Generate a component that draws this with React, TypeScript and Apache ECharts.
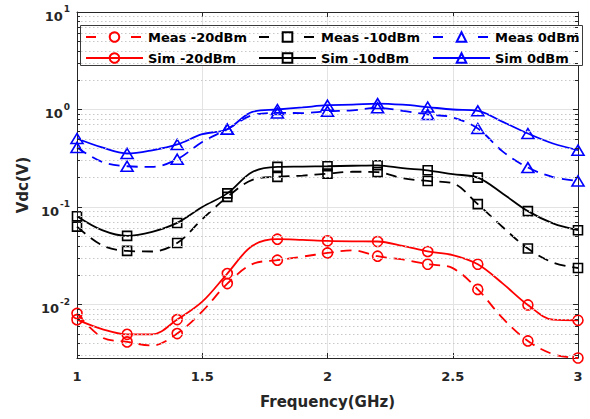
import React, { useEffect, useRef } from 'react';
import * as echarts from 'echarts';

const markerFreq = [1.0, 1.2, 1.4, 1.6, 1.8, 2.0, 2.2, 2.4, 2.6, 2.8, 3.0];
const midFreq = [1.1, 1.3, 1.5, 1.7, 1.9, 2.1, 2.3, 2.5, 2.7, 2.9];

// Vdc (V) values
const measM20 = [0.0081, 0.00414, 0.00504, 0.0164, 0.0285, 0.0338, 0.0313, 0.0259, 0.0143, 0.00423, 0.00283];
const measM20Mid = [0.0046, 0.0038, 0.0085, 0.026, 0.031, 0.036, 0.029, 0.0236, 0.0072, 0.0031];
const simM20 = [0.007, 0.00495, 0.00702, 0.0208, 0.0468, 0.045, 0.0443, 0.035, 0.0259, 0.0099, 0.0069];
const simM20Mid = [0.0056, 0.00495, 0.0107, 0.04, 0.046, 0.0445, 0.04, 0.0322, 0.0164, 0.007];

const measM10 = [0.063, 0.0355, 0.0428, 0.127, 0.204, 0.22, 0.228, 0.185, 0.107, 0.0375, 0.0237];
const measM10Mid = [0.0405, 0.035, 0.075, 0.19, 0.21, 0.23, 0.197, 0.175, 0.062, 0.027];
const simM10 = [0.0805, 0.0506, 0.0687, 0.138, 0.258, 0.262, 0.268, 0.238, 0.2, 0.0908, 0.0578];
const simM10Mid = [0.058, 0.0557, 0.1, 0.229, 0.26, 0.265, 0.25, 0.217, 0.137, 0.068];

const measM0 = [0.408, 0.262, 0.309, 0.628, 0.923, 0.96, 1.04, 0.89, 0.638, 0.254, 0.185];
const measM0Mid = [0.29, 0.258, 0.465, 0.874, 0.92, 0.98, 0.97, 0.83, 0.37, 0.203];
const simM0 = [0.504, 0.354, 0.438, 0.628, 1.0, 1.107, 1.15, 1.06, 0.97, 0.567, 0.383];
const simM0Mid = [0.408, 0.382, 0.558, 0.945, 1.05, 1.12, 1.12, 1.0, 0.746, 0.448];

const seriesNames = ['Meas -20dBm', 'Meas -10dBm', 'Meas 0dBm', 'Sim -20dBm', 'Sim -10dBm', 'Sim 0dBm'];
const xTicks = [1, 1.5, 2, 2.5, 3];
const yMin = 0.00283;
const yMax = 10;

const FONT = 'DejaVu Sans';
const AXIS_COLOR = '#262626';
const DASH = [11, 7];

function buildData(vals: number[], mids: number[]) {
  const pts: any[] = [];
  markerFreq.forEach((f, i) => pts.push({ value: [f, vals[i]] }));
  midFreq.forEach((f, i) => pts.push({ value: [f, mids[i]], symbol: 'none' }));
  pts.sort((a, b) => a.value[0] - b.value[0]);
  return pts;
}

function makeSeries(name: string, vals: number[], mids: number[], color: string, dashed: boolean, symbol: string, size: any) {
  return {
    name,
    type: 'line',
    data: buildData(vals, mids),
    smooth: 0.35,
    symbol,
    symbolSize: size,
    showAllSymbol: true,
    xAxisIndex: 0,
    yAxisIndex: 0,
    z: 3,
    lineStyle: { color, width: 1.8, type: dashed ? DASH : 'solid' },
    itemStyle: { color: 'rgba(255,255,255,0)', borderColor: color, borderWidth: 1.6 },
    emphasis: { disabled: true },
  };
}

// minor decade positions (2..9 x 10^n) for the log axis grid
const minorVals: number[] = [];
for (let e = -3; e <= 0; e++) {
  for (let k = 2; k <= 9; k++) {
    const v = k * Math.pow(10, e);
    if (v > yMin && v < yMax) minorVals.push(v);
  }
}

export default function App() {
  const ref = useRef<HTMLDivElement>(null);
  useEffect(() => {
    const chart = echarts.init(ref.current!, undefined, { renderer: 'svg' });
    const gridLines: any[] = [];
    minorVals.forEach((v) => {
      gridLines.push([{ coord: [1, v], lineStyle: { color: '#c8c8c8', width: 1, type: [1.5, 2.5] } }, { coord: [3, v] }]);
      gridLines.push([{ coord: [1, v], lineStyle: { color: AXIS_COLOR, width: 1, type: 'solid' } }, { coord: [1.012, v] }]);
      gridLines.push([{ coord: [2.988, v], lineStyle: { color: AXIS_COLOR, width: 1, type: 'solid' } }, { coord: [3, v] }]);
    });

    const legendPos = [
      [85, 30], [258, 30], [432, 30],
      [85, 51], [258, 51], [432, 51],
    ];
    const legends = seriesNames.map((n, i) => ({
      data: [n],
      left: legendPos[i][0],
      top: legendPos[i][1],
      padding: 0,
      itemWidth: 57,
      itemHeight: 12,
      z: 10,
      lineStyle: i < 3 ? { type: [10, 35], width: 2 } : { width: 2 },
      textStyle: { fontFamily: FONT, fontWeight: 'bold', fontSize: 13, color: '#000', lineHeight: 14 },
    }));

    const labelFont = { fontFamily: FONT, fontWeight: 'bold', fontSize: 13, color: AXIS_COLOR };

    const option: any = {
      animation: false,
      backgroundColor: '#fff',
      grid: { left: 77, right: 12, top: 12, bottom: 61, containLabel: false },
      legend: legends,
      graphic: [
        {
          type: 'rect',
          z: 5,
          shape: { x: 80.5, y: 25.5, width: 502, height: 40 },
          style: { fill: '#fff', stroke: '#3a3a3a', lineWidth: 1 },
        },
      ],
      xAxis: [
        {
          type: 'value',
          min: 1,
          max: 3,
          interval: 0.5,
          position: 'bottom',
          axisLine: { lineStyle: { color: AXIS_COLOR, width: 1 } },
          axisTick: { inside: true, length: 5, lineStyle: { color: AXIS_COLOR } },
          axisLabel: {
            ...labelFont,
            margin: 12,
            formatter: (v: number) => (xTicks.includes(v) ? String(v) : ''),
          },
          splitLine: { show: true, lineStyle: { color: '#e3e3e3', width: 1 } },
          name: 'Frequency(GHz)',
          nameLocation: 'middle',
          nameGap: 36,
          nameTextStyle: { fontFamily: FONT, fontWeight: 'bold', fontSize: 15, color: AXIS_COLOR },
        },
        {
          type: 'value',
          min: 1,
          max: 3,
          interval: 0.5,
          position: 'top',
          axisLine: { lineStyle: { color: AXIS_COLOR, width: 1 } },
          axisTick: { inside: true, length: 5, lineStyle: { color: AXIS_COLOR } },
          axisLabel: { show: false },
          splitLine: { show: false },
        },
      ],
      yAxis: [
        {
          type: 'log',
          logBase: 10,
          min: yMin,
          max: yMax,
          position: 'left',
          axisLine: { show: true, lineStyle: { color: AXIS_COLOR, width: 1 } },
          axisTick: { show: true, inside: true, length: 5, lineStyle: { color: AXIS_COLOR } },
          axisLabel: {
            margin: 7,
            formatter: (v: number) => {
              const l = Math.log10(v);
              const e = Math.round(l);
              if (Math.abs(l - e) > 1e-6) return '';
              return '{b|10}{s|' + e + '}';
            },
            rich: {
              b: { fontFamily: FONT, fontWeight: 'bold', fontSize: 13, color: AXIS_COLOR, padding: [8, 0, 0, 0] },
              s: { fontFamily: FONT, fontWeight: 'bold', fontSize: 9, color: AXIS_COLOR, padding: [0, 0, 6, 1] },
            },
          },
          splitLine: { show: true, lineStyle: { color: '#e3e3e3', width: 1.2 } },
          name: 'Vdc(V)',
          nameLocation: 'middle',
          nameGap: 44,
          nameTextStyle: { fontFamily: FONT, fontWeight: 'bold', fontSize: 15, color: AXIS_COLOR },
        },
        {
          type: 'log',
          logBase: 10,
          min: yMin,
          max: yMax,
          position: 'right',
          axisLine: { show: true, lineStyle: { color: AXIS_COLOR, width: 1 } },
          axisTick: { show: true, inside: true, length: 5, lineStyle: { color: AXIS_COLOR } },
          axisLabel: { show: false },
          splitLine: { show: false },
        },
      ],
      series: [
        {
          name: 'grid-minor',
          type: 'line',
          data: [],
          z: 1,
          silent: true,
          markLine: {
            silent: true,
            symbol: ['none', 'none'],
            label: { show: false },
            animation: false,
            data: gridLines,
          },
        },
        makeSeries(seriesNames[0], measM20, measM20Mid, '#ff0000', true, 'circle', 10),
        makeSeries(seriesNames[1], measM10, measM10Mid, '#000000', true, 'rect', 9),
        makeSeries(seriesNames[2], measM0, measM0Mid, '#0000ff', true, 'triangle', [12, 10]),
        makeSeries(seriesNames[3], simM20, simM20Mid, '#ff0000', false, 'circle', 10),
        makeSeries(seriesNames[4], simM10, simM10Mid, '#000000', false, 'rect', 9),
        makeSeries(seriesNames[5], simM0, simM0Mid, '#0000ff', false, 'triangle', [12, 10]),
      ],
    };
    chart.setOption(option);
    return () => chart.dispose();
  }, []);
  return <div ref={ref} style={{ position: 'absolute', left: 0, top: 0, width: 590, height: 419 }} />;
}
